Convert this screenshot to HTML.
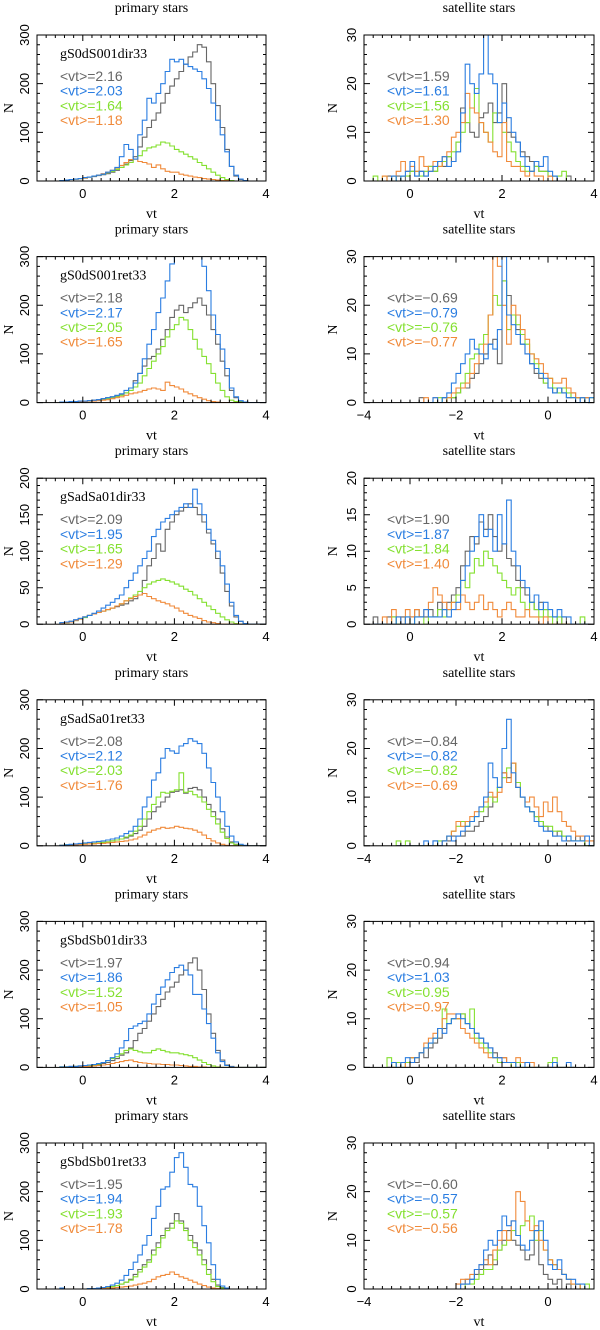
<!DOCTYPE html>
<html><head><meta charset="utf-8"><title>vt histograms</title>
<style>
html,body{margin:0;padding:0;background:#fff;}
svg{display:block;}
.t{font-family:"Liberation Serif",serif;font-size:14px;fill:#000;}
.tk{font-family:"Liberation Sans",sans-serif;font-size:13px;fill:#000;}
.lg{font-family:"Liberation Sans",sans-serif;font-size:14px;}
</style></head>
<body>
<svg id="fig" width="600" height="1330" viewBox="0 0 600 1330" xmlns="http://www.w3.org/2000/svg"></svg>
<script>
// ---------- data (bin width 0.1) ----------
const binWidth = 0.1;
const modelNames = ["gS0dS001dir33","gS0dS001ret33","gSadSa01dir33","gSadSa01ret33","gSbdSb01dir33","gSbdSb01ret33"];
const leftMeans = [["2.16","2.03","1.64","1.18"],["2.18","2.17","2.05","1.65"],["2.09","1.95","1.65","1.29"],["2.08","2.12","2.03","1.76"],["1.97","1.86","1.52","1.05"],["1.95","1.94","1.93","1.78"]];
const rightMeans = [["1.59","1.61","1.56","1.30"],["-0.69","-0.79","-0.76","-0.77"],["1.90","1.87","1.84","1.40"],["-0.84","-0.82","-0.82","-0.69"],["0.94","1.03","0.95","0.97"],["-0.60","-0.57","-0.57","-0.56"]];
const leftYMax = [300,300,200,300,300,300];
const leftYTicks = [[0,100,200,300],[0,100,200,300],[0,50,100,150,200],[0,100,200,300],[0,100,200,300],[0,100,200,300]];
const rightYMax = [30,30,20,30,30,30];
const rightYTicks = [[0,10,20,30],[0,10,20,30],[0,5,10,15,20],[0,10,20,30],[0,10,20,30],[0,10,20,30]];
const rightXMin = [-1,-4,-1,-4,-1,-4];
const leftStarts = [-0.5,-0.5,-0.5,-0.5,-0.5,-0.5];
const rightStarts = [-0.8,-2.8,-0.8,-3.3,-0.5,-2.0];

// row 1 left
const p1Gray=[1,2,3,4,5,6,8,9,11,13,15,18,22,28,35,42,50,70,90,110,125,140,160,180,195,210,225,240,255,265,280,275,245,200,155,110,65,30,10,3,1,0,0,0,0];
const p1Blue=[1,2,3,4,5,7,8,10,12,14,18,22,28,50,75,65,45,95,125,170,160,180,200,225,250,245,250,240,235,230,225,210,190,160,125,95,60,30,12,4,1,0,0,0,0];
const p1Green=[1,2,3,4,5,6,8,10,12,14,17,20,24,28,33,38,45,52,62,68,70,74,80,78,72,65,60,55,50,45,38,32,25,18,12,7,3,1,0,0,0,0,0,0,0];
const p1Orange=[1,2,3,4,5,6,8,10,12,15,18,22,27,32,38,44,45,40,38,35,28,33,25,20,18,18,14,12,10,8,7,5,4,3,2,1,1,0,0,0,0,0,0,0,0];
// row 1 right
const p2Gray=[0,0,0,1,0,1,1,0,2,1,2,1,3,2,4,3,5,4,8,15,12,10,9,13,14,16,12,14,20,10,9,8,6,5,4,3,2,2,1,1,0,0,1];
const p2Blue=[0,0,0,0,1,0,1,2,4,1,2,1,2,3,4,5,3,4,6,14,24,20,18,22,30,22,20,12,16,13,10,8,5,3,2,4,3,5,2,1,0,0,0];
const p2Green=[1,0,1,0,1,0,1,1,2,2,1,2,3,2,3,4,5,6,8,10,12,15,19,12,10,8,14,12,10,8,6,4,3,2,2,3,2,2,1,1,1,2,0];
const p2Orange=[0,0,1,0,1,2,4,2,3,2,5,3,2,4,3,5,6,9,10,12,18,15,14,12,10,8,6,5,12,4,3,3,2,1,2,1,1,0,1,0,0,0,0];
// row 2 left
const p3Gray=[1,1,2,2,3,3,4,5,6,8,10,12,14,16,20,30,45,60,75,90,95,110,130,150,175,190,200,185,195,205,215,200,180,150,120,85,55,25,10,3,1,0,0,0,0];
const p3Blue=[1,1,2,2,3,3,4,5,6,8,10,12,15,18,25,30,40,60,90,120,150,185,215,250,285,320,340,350,345,330,310,280,230,180,140,110,70,30,12,4,1,0,0,0,0];
const p3Green=[1,1,1,2,2,3,3,4,5,6,8,10,12,15,20,25,32,40,55,70,85,100,115,135,150,160,175,170,150,130,110,95,80,60,40,25,12,5,2,1,0,0,0,0,0];
const p3Orange=[1,1,1,1,2,2,3,3,4,5,6,8,10,12,15,18,20,22,25,28,30,28,25,42,35,32,28,22,18,14,10,7,4,2,1,0,0,0,0,0,0,0,0,0,0];
// row 2 right
const p4Gray=[1,0,0,0,0,1,0,1,2,3,3,5,6,8,10,12,13,8,25,22,18,15,12,10,8,6,5,4,3,2,3,2,1,2,1,0,1,0,0];
const p4Blue=[0,0,0,1,0,1,2,4,6,8,10,13,11,10,9,12,11,15,30,18,16,14,12,10,8,7,6,5,3,2,3,2,1,1,0,1,0,1,0];
const p4Green=[0,0,0,0,1,0,1,1,2,4,6,9,10,12,14,18,22,20,25,15,18,16,14,12,10,8,6,4,5,3,2,3,2,1,1,1,0,1,0];
const p4Orange=[0,1,0,1,0,0,1,2,3,3,4,6,8,10,12,18,30,28,20,12,20,18,15,13,10,9,8,6,5,4,4,5,3,2,1,1,1,0,0];
// row 3 left
const p5Gray=[2,3,4,6,8,10,12,14,16,18,20,22,24,26,28,32,35,40,60,80,90,110,100,130,140,150,155,160,165,160,150,140,125,110,90,70,45,25,10,4,1,0,0,0,0];
const p5Blue=[2,3,4,6,8,10,12,15,18,22,26,30,35,40,50,60,70,80,90,100,120,130,140,145,150,155,160,165,160,185,165,150,130,115,100,80,55,30,12,4,1,0,0,0,0];
const p5Green=[1,2,3,5,7,9,12,14,16,18,20,22,25,28,32,36,40,45,50,55,58,60,62,60,58,55,52,48,45,40,35,30,25,20,15,10,6,3,1,0,0,0,0,0,0];
const p5Orange=[1,2,3,5,7,10,12,14,16,18,20,22,25,28,32,35,38,40,42,38,35,32,30,28,25,22,18,15,12,10,8,5,3,2,1,0,0,0,0,0,0,0,0,0,0];
// row 3 right
const p6Gray=[1,0,0,1,1,0,1,0,1,2,1,1,2,1,3,2,3,4,5,8,10,12,11,14,13,15,12,10,11,9,8,6,5,4,3,2,3,2,1,1,0,1,0,0,0,0,0];
const p6Blue=[0,0,0,0,0,1,0,1,0,1,1,2,1,1,1,2,1,2,3,6,8,10,12,15,12,13,10,15,11,17,10,8,6,5,3,4,2,3,2,1,2,1,1,0,0,0,0];
const p6Green=[0,0,0,0,1,0,0,1,0,1,1,0,1,1,2,1,2,3,4,6,5,7,9,8,10,9,8,7,6,5,4,5,3,2,3,2,1,2,1,0,1,0,0,0,0,1,0];
const p6Orange=[0,0,1,0,2,1,0,2,1,2,1,2,3,5,4,3,2,3,2,4,3,2,3,4,2,3,2,1,2,3,2,1,1,2,1,1,0,1,0,0,0,0,0,0,0,0,0];
// row 4 left
const p7Gray=[1,2,2,3,3,4,4,5,6,7,8,10,12,14,16,20,25,32,40,55,70,80,90,100,110,112,115,108,118,120,115,100,85,70,55,35,18,8,3,1,0,0,0,0,0];
const p7Blue=[1,2,3,4,5,6,7,8,9,10,12,14,16,20,25,30,40,55,80,100,135,150,180,200,195,190,205,210,220,215,210,190,160,130,100,70,40,20,8,3,1,0,0,0,0];
const p7Green=[1,2,2,3,3,4,4,5,6,7,8,10,12,14,18,22,30,40,55,70,85,100,110,108,112,115,150,110,112,105,100,90,75,60,45,28,15,6,2,1,0,0,0,0,0];
const p7Orange=[1,1,2,2,3,3,4,4,5,5,6,7,8,9,10,12,14,18,22,28,32,35,38,36,37,40,38,36,35,32,28,22,15,10,6,3,1,0,0,0,0,0,0,0,0];
// row 4 right
const p8Gray=[0,0,0,0,0,0,0,0,1,0,1,1,2,2,2,3,3,4,5,6,8,10,12,15,14,17,12,10,8,7,6,5,4,3,2,3,2,1,1,2,1,0,1,0];
const p8Blue=[0,0,0,0,0,0,1,0,1,0,1,2,1,2,3,4,5,6,8,10,17,14,12,20,26,15,12,10,8,7,5,4,3,3,2,2,1,2,1,1,1,2,0,1];
const p8Green=[1,0,1,0,0,0,0,0,0,1,1,2,3,4,5,4,5,6,7,8,10,9,12,14,16,17,13,10,8,7,6,5,4,4,3,3,2,2,1,1,1,0,0,1];
const p8Orange=[0,0,0,0,0,0,0,0,0,0,1,2,3,5,4,5,6,7,8,9,11,10,11,15,13,17,12,10,9,10,8,6,9,7,10,7,5,4,3,2,2,1,1,1];
// row 5 left
const p9Gray=[1,1,2,2,3,3,4,5,6,8,10,14,18,25,30,40,55,70,80,95,110,125,140,155,165,175,190,200,215,225,200,160,110,70,35,15,5,2,0,0,0,0,0,0,0];
const p9Blue=[1,1,2,2,3,4,5,6,8,10,14,20,28,40,55,80,85,90,95,110,130,150,165,180,195,205,210,200,190,150,150,120,90,60,30,12,4,1,0,0,0,0,0,0,0];
const p9Green=[1,1,1,2,2,3,4,5,7,10,14,18,22,28,35,38,35,32,30,30,35,38,35,32,30,30,28,26,24,20,15,10,6,3,1,0,0,0,0,0,0,0,0,0,0];
const p9Orange=[0,0,1,1,1,2,2,3,4,5,6,8,10,12,14,15,12,10,9,8,7,7,6,6,5,5,4,3,2,2,1,1,0,0,0,0,0,0,0,0,0,0,0,0,0];
// row 5 right
const p10Gray=[0,0,1,0,1,2,1,3,2,4,5,6,8,9,10,10,11,9,8,7,6,5,4,3,2,2,1,1,0,1,0,0,0,0,0,0,0,0,0,0,0];
const p10Blue=[0,1,0,1,2,1,2,3,4,5,6,8,7,9,10,11,10,9,8,7,6,5,4,2,2,1,1,1,0,0,1,0,0,0,0,0,1,0,0,1,0];
const p10Green=[2,0,1,0,1,2,2,3,4,5,6,8,12,9,10,10,11,9,12,6,5,4,3,2,1,1,1,0,1,0,0,0,0,0,0,1,2,0,0,0,0];
const p10Orange=[0,0,0,1,0,2,2,3,5,6,7,8,10,11,11,10,8,7,6,5,4,3,2,2,2,2,1,1,2,1,1,1,0,0,0,0,0,0,0,0,0];
// row 6 left
const p11Gray=[0,0,0,0,0,0,1,1,1,2,3,5,7,10,14,20,30,40,50,60,80,95,110,125,135,155,140,125,110,95,80,60,40,20,8,3,1,0,0,0,0,0,0,0,0];
const p11Blue=[2,0,0,0,0,0,1,1,2,3,5,8,12,18,28,40,55,70,90,110,145,170,205,210,240,270,280,250,215,210,170,130,95,50,20,6,2,0,0,0,0,0,0,0,0];
const p11Green=[0,0,0,0,0,0,1,1,1,2,3,5,7,10,14,18,25,35,45,55,70,85,105,120,125,140,135,120,100,85,70,50,30,15,5,2,1,0,0,0,0,0,0,0,0];
const p11Orange=[0,0,0,0,0,0,0,1,1,1,2,2,3,4,5,6,8,10,12,15,20,25,28,30,35,30,25,22,18,14,10,7,4,2,1,0,0,0,0,0,0,0,0,0,0];
// row 6 right
const p12Gray=[0,1,2,2,3,4,5,7,5,8,10,12,10,9,8,6,7,12,5,3,2,1,2,0,1,0,1,0,0];
const p12Blue=[0,1,1,2,4,5,8,10,9,12,15,13,14,11,9,8,10,12,14,10,5,4,6,3,2,2,1,1,0];
const p12Green=[0,0,1,1,2,3,4,4,6,8,9,10,12,11,13,14,15,10,12,8,6,5,4,3,2,1,1,0,1];
const p12Orange=[1,2,2,3,4,5,6,5,8,10,12,10,14,20,18,14,12,13,10,8,6,5,4,3,2,1,1,0,0];

const leftSeries=[[p1Gray,p1Blue,p1Green,p1Orange],[p3Gray,p3Blue,p3Green,p3Orange],[p5Gray,p5Blue,p5Green,p5Orange],[p7Gray,p7Blue,p7Green,p7Orange],[p9Gray,p9Blue,p9Green,p9Orange],[p11Gray,p11Blue,p11Green,p11Orange]];
const rightSeries=[[p2Gray,p2Blue,p2Green,p2Orange],[p4Gray,p4Blue,p4Green,p4Orange],[p6Gray,p6Blue,p6Green,p6Orange],[p8Gray,p8Blue,p8Green,p8Orange],[p10Gray,p10Blue,p10Green,p10Orange],[p12Gray,p12Blue,p12Green,p12Orange]];
const seriesNames=["gray","blue","green","orange"];
const seriesColors=["#666666","#2a7de1","#84e030","#f08a3a"];

// ---------- drawing ----------
const NS="http://www.w3.org/2000/svg";
const svg=document.getElementById("fig");
function mk(tag,attrs,parent){const e=document.createElementNS(NS,tag);for(const k in attrs)e.setAttribute(k,attrs[k]);(parent||svg).appendChild(e);return e;}

function panel(row,side){
  const top=35+row*221.6, h=146, bot=top+h;
  const x0=side==="left"?37:364, x1=side==="left"?266:594;
  const xmin=side==="left"?-1:rightXMin[row], xmax=xmin+5;
  const ymax=side==="left"?leftYMax[row]:rightYMax[row];
  const yticks=side==="left"?leftYTicks[row]:rightYTicks[row];
  const xs=v=>x0+(v-xmin)/(xmax-xmin)*(x1-x0);
  const ys=v=>bot-v/ymax*h;
  const g=mk("g",{});
  
  
  const cid="clip"+side+row;
  const cp=mk("clipPath",{id:cid},g);
  mk("rect",{x:x0,y:top,width:x1-x0,height:h},cp);
  const title=mk("text",{x:(x0+x1)/2,y:top-23,"text-anchor":"middle",class:"t"},g);
  title.textContent=side==="left"?"primary stars":"satellite stars";
  
  
  const sers=side==="left"?leftSeries[row]:rightSeries[row];
  const start=side==="left"?leftStarts[row]:rightStarts[row];
  const hg=mk("g",{"clip-path":"url(#"+cid+")"},g);
  [0,2,3,1].forEach(si=>{
    const vals=sers[si];
    let d="M"+xs(start).toFixed(1)+","+ys(0).toFixed(1);
    vals.forEach((v,i)=>{const e=start+i*binWidth;d+=" L"+xs(e).toFixed(1)+","+ys(v).toFixed(1)+" L"+xs(e+binWidth).toFixed(1)+","+ys(v).toFixed(1);});
    d+=" L"+xs(start+vals.length*binWidth).toFixed(1)+","+ys(0).toFixed(1);
    const p=mk("path",{d:d,fill:"none",stroke:seriesColors[si],"stroke-width":"1.1"},hg);
    
    
  });
  const fr=mk("rect",{x:x0,y:top,width:x1-x0,height:h,fill:"none",stroke:"#000","stroke-width":"1"},g);
  
  
  let td="";
  for(let v=Math.ceil(xmin*5)/5; v<=xmax+1e-9; v+=0.2){
    const vv=Math.round(v*10)/10, X=xs(vv), major=Math.abs(vv-Math.round(vv/2)*2)<1e-6, L=major?6:3;
    td+="M"+X+","+bot+"v"+(-L)+"M"+X+","+top+"v"+L;
    if(major){const t=mk("text",{x:X,y:bot+17,"text-anchor":"middle",class:"tk"},g);t.textContent=(vv<0?"\u2212"+(-vv):String(vv));
      
      }
  }
  const ystep=yticks[1]-yticks[0], minor=ystep/5;
  for(let v=0; v<=ymax+1e-9; v+=minor){
    const Y=ys(v), major=Math.abs(v/ystep-Math.round(v/ystep))<1e-6, L=major?6:3;
    td+="M"+x0+","+Y+"h"+L+"M"+x1+","+Y+"h"+(-L);
  }
  mk("path",{d:td,stroke:"#000","stroke-width":"1",fill:"none"},g);
  yticks.forEach(v=>{
    const Y=ys(v), X=x0-8;
    const t=mk("text",{x:X,y:Y,"text-anchor":"middle",class:"tk",transform:"rotate(-90 "+X+" "+Y+")"},g);
    t.textContent=String(v);
    
    
  });
  const nx=side==="left"?x0-24:x0-27;
  const nl=mk("text",{x:nx,y:top+h/2,"text-anchor":"middle",class:"t",transform:"rotate(-90 "+nx+" "+(top+h/2)+")"},g);
  nl.textContent="N";
  
  
  const xl=mk("text",{x:(x0+x1)/2,y:bot+37,"text-anchor":"middle",class:"t"},g);
  xl.textContent="vt";
  
  
  const lx=x0+23;
  if(side==="left"){
    const m=mk("text",{x:lx,y:top+23,class:"t"},g);m.textContent=modelNames[row];
    
    
  }
  const means=side==="left"?leftMeans[row]:rightMeans[row];
  means.forEach((mv,i)=>{
    const t=mk("text",{x:lx,y:top+46+i*14.7,class:"lg",fill:seriesColors[i]},g);
    t.textContent="<vt>="+(mv[0]==="-"?"\u2212"+mv.slice(1):mv);
    
    
  });
}
for(let r=0;r<6;r++){panel(r,"left");panel(r,"right");}
</script>
</body></html>
